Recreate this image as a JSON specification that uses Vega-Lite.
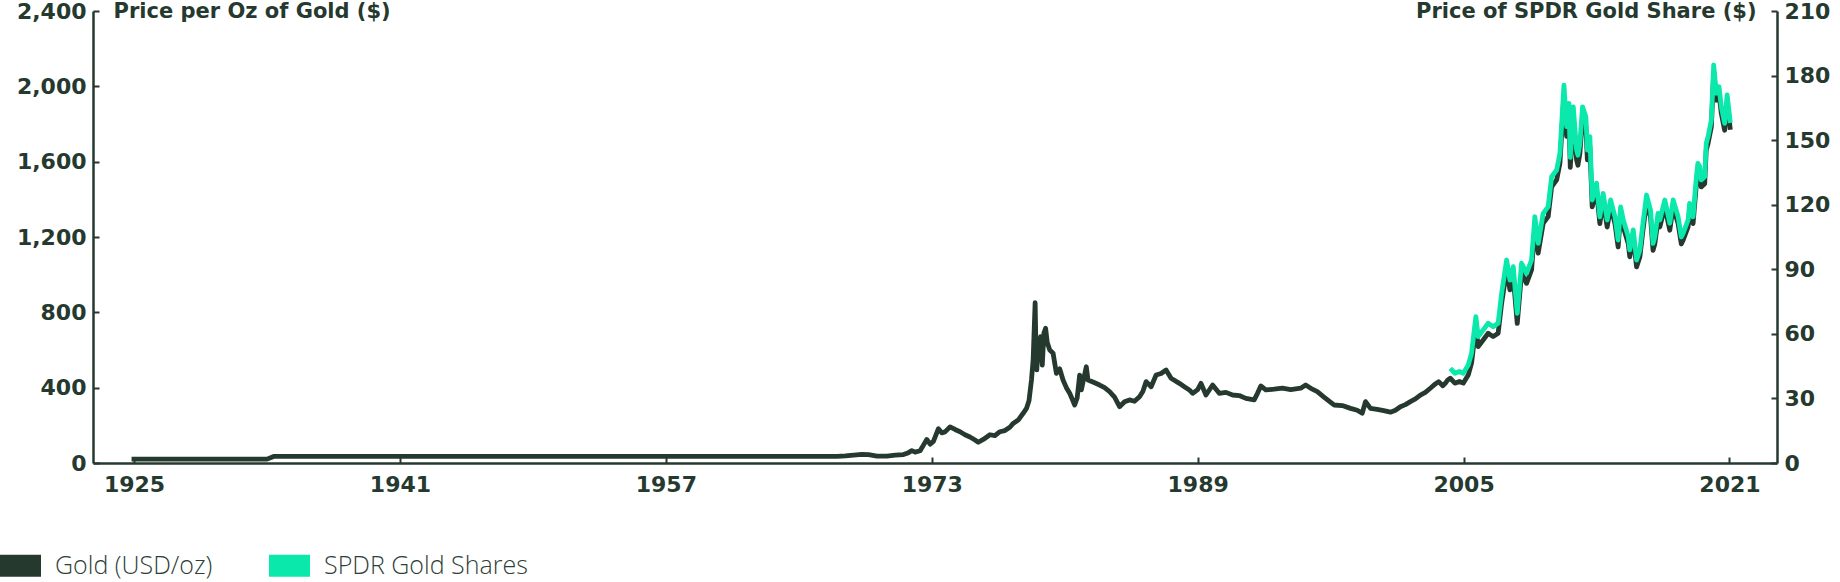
{
  "$schema": "https://vega.github.io/schema/vega-lite/v6.json",
  "width": 1684,
  "height": 452,
  "autosize": {"type": "none"},
  "padding": {"left": 93, "top": 11, "right": 63, "bottom": 119},
  "background": "white",
  "config": {"view": {"stroke": null}, "axis": {"grid": false}},
  "datasets": {
    "gold": [
      {"year": 1924.85, "value": 20.67}, {"year": 1933.0, "value": 20.67}, {"year": 1933.4, "value": 35},
      {"year": 1967.3, "value": 35}, {"year": 1967.8, "value": 38}, {"year": 1968.3, "value": 42}, {"year": 1968.8, "value": 46},
      {"year": 1969.2, "value": 44}, {"year": 1969.7, "value": 36}, {"year": 1970.3, "value": 37}, {"year": 1970.8, "value": 42},
      {"year": 1971.3, "value": 45}, {"year": 1971.6, "value": 55}, {"year": 1971.8, "value": 66}, {"year": 1972.0, "value": 58},
      {"year": 1972.3, "value": 65}, {"year": 1972.5, "value": 95}, {"year": 1972.7, "value": 125}, {"year": 1972.9, "value": 100},
      {"year": 1973.1, "value": 115}, {"year": 1973.4, "value": 182}, {"year": 1973.6, "value": 160}, {"year": 1973.8, "value": 165},
      {"year": 1974.1, "value": 192}, {"year": 1974.4, "value": 178}, {"year": 1974.7, "value": 166}, {"year": 1975.0, "value": 150},
      {"year": 1975.3, "value": 138}, {"year": 1975.6, "value": 122}, {"year": 1975.8, "value": 110}, {"year": 1976.1, "value": 125},
      {"year": 1976.5, "value": 150}, {"year": 1976.8, "value": 145}, {"year": 1977.1, "value": 166}, {"year": 1977.4, "value": 172},
      {"year": 1977.7, "value": 190}, {"year": 1977.9, "value": 210}, {"year": 1978.2, "value": 228}, {"year": 1978.5, "value": 264},
      {"year": 1978.7, "value": 290}, {"year": 1978.85, "value": 330}, {"year": 1979.0, "value": 441}, {"year": 1979.1, "value": 547},
      {"year": 1979.22, "value": 851}, {"year": 1979.28, "value": 560}, {"year": 1979.32, "value": 494}, {"year": 1979.4, "value": 630},
      {"year": 1979.47, "value": 560}, {"year": 1979.55, "value": 671}, {"year": 1979.65, "value": 520}, {"year": 1979.75, "value": 690},
      {"year": 1979.85, "value": 715}, {"year": 1979.95, "value": 640}, {"year": 1980.1, "value": 600}, {"year": 1980.3, "value": 583},
      {"year": 1980.5, "value": 476}, {"year": 1980.7, "value": 500}, {"year": 1980.9, "value": 441}, {"year": 1981.1, "value": 400},
      {"year": 1981.3, "value": 370}, {"year": 1981.45, "value": 340}, {"year": 1981.6, "value": 308}, {"year": 1981.75, "value": 345},
      {"year": 1981.9, "value": 467}, {"year": 1982.0, "value": 388}, {"year": 1982.15, "value": 450}, {"year": 1982.3, "value": 511},
      {"year": 1982.4, "value": 441}, {"year": 1982.7, "value": 430}, {"year": 1983.1, "value": 414}, {"year": 1983.4, "value": 400},
      {"year": 1983.7, "value": 379}, {"year": 1984.0, "value": 350}, {"year": 1984.3, "value": 299}, {"year": 1984.6, "value": 325},
      {"year": 1984.9, "value": 335}, {"year": 1985.2, "value": 328}, {"year": 1985.5, "value": 352}, {"year": 1985.7, "value": 380},
      {"year": 1985.9, "value": 432}, {"year": 1986.2, "value": 405}, {"year": 1986.5, "value": 467}, {"year": 1986.8, "value": 475},
      {"year": 1987.1, "value": 494}, {"year": 1987.4, "value": 450}, {"year": 1987.9, "value": 423}, {"year": 1988.2, "value": 405},
      {"year": 1988.5, "value": 388}, {"year": 1988.7, "value": 370}, {"year": 1989.0, "value": 390}, {"year": 1989.2, "value": 423},
      {"year": 1989.5, "value": 361}, {"year": 1989.9, "value": 414}, {"year": 1990.3, "value": 370}, {"year": 1990.7, "value": 375},
      {"year": 1991.1, "value": 361}, {"year": 1991.5, "value": 358}, {"year": 1991.9, "value": 343}, {"year": 1992.4, "value": 335},
      {"year": 1992.6, "value": 370}, {"year": 1992.8, "value": 409}, {"year": 1993.1, "value": 388}, {"year": 1993.6, "value": 392},
      {"year": 1994.1, "value": 397}, {"year": 1994.6, "value": 390}, {"year": 1995.2, "value": 397}, {"year": 1995.5, "value": 414},
      {"year": 1995.9, "value": 392}, {"year": 1996.2, "value": 379}, {"year": 1996.6, "value": 350}, {"year": 1997.2, "value": 308},
      {"year": 1997.7, "value": 305}, {"year": 1998.2, "value": 290}, {"year": 1998.6, "value": 280}, {"year": 1998.9, "value": 264},
      {"year": 1999.1, "value": 326}, {"year": 1999.4, "value": 290}, {"year": 1999.8, "value": 285}, {"year": 2000.2, "value": 278},
      {"year": 2000.6, "value": 270}, {"year": 2000.9, "value": 280}, {"year": 2001.2, "value": 299}, {"year": 2001.5, "value": 310},
      {"year": 2001.8, "value": 326}, {"year": 2002.1, "value": 340}, {"year": 2002.4, "value": 361}, {"year": 2002.7, "value": 375},
      {"year": 2003.0, "value": 397}, {"year": 2003.3, "value": 420}, {"year": 2003.5, "value": 432}, {"year": 2003.75, "value": 410},
      {"year": 2003.9, "value": 423}, {"year": 2004.05, "value": 441},
      {"year": 2004.2, "value": 450}, {"year": 2004.48, "value": 424}, {"year": 2004.75, "value": 433}, {"year": 2004.98, "value": 424},
      {"year": 2005.28, "value": 467}, {"year": 2005.48, "value": 530}, {"year": 2005.74, "value": 724}, {"year": 2005.88, "value": 618},
      {"year": 2006.18, "value": 653}, {"year": 2006.48, "value": 689}, {"year": 2006.78, "value": 671}, {"year": 2007.08, "value": 689},
      {"year": 2007.29, "value": 848}, {"year": 2007.59, "value": 1025}, {"year": 2007.79, "value": 919}, {"year": 2007.99, "value": 989},
      {"year": 2008.23, "value": 741}, {"year": 2008.49, "value": 1008}, {"year": 2008.79, "value": 954}, {"year": 2009.09, "value": 1025},
      {"year": 2009.29, "value": 1255}, {"year": 2009.49, "value": 1114}, {"year": 2009.79, "value": 1273}, {"year": 2010.09, "value": 1308},
      {"year": 2010.3, "value": 1467}, {"year": 2010.6, "value": 1503}, {"year": 2010.8, "value": 1592}, {"year": 2011.04, "value": 1954},
      {"year": 2011.2, "value": 1734}, {"year": 2011.34, "value": 1857}, {"year": 2011.42, "value": 1570}, {"year": 2011.5, "value": 1680},
      {"year": 2011.6, "value": 1839}, {"year": 2011.8, "value": 1609}, {"year": 2011.88, "value": 1581}, {"year": 2012.0, "value": 1644},
      {"year": 2012.16, "value": 1839}, {"year": 2012.36, "value": 1786}, {"year": 2012.45, "value": 1609}, {"year": 2012.6, "value": 1680},
      {"year": 2012.74, "value": 1360}, {"year": 2013.0, "value": 1449}, {"year": 2013.2, "value": 1271}, {"year": 2013.4, "value": 1395},
      {"year": 2013.64, "value": 1253}, {"year": 2013.85, "value": 1360}, {"year": 2014.11, "value": 1271}, {"year": 2014.3, "value": 1147},
      {"year": 2014.45, "value": 1323}, {"year": 2014.61, "value": 1253}, {"year": 2014.91, "value": 1164}, {"year": 2015.0, "value": 1095},
      {"year": 2015.21, "value": 1201}, {"year": 2015.41, "value": 1041}, {"year": 2015.61, "value": 1095}, {"year": 2015.77, "value": 1218},
      {"year": 2016.01, "value": 1386}, {"year": 2016.25, "value": 1306}, {"year": 2016.4, "value": 1129}, {"year": 2016.51, "value": 1164},
      {"year": 2016.7, "value": 1289}, {"year": 2016.81, "value": 1253}, {"year": 2017.11, "value": 1360}, {"year": 2017.41, "value": 1236},
      {"year": 2017.61, "value": 1360}, {"year": 2017.91, "value": 1271}, {"year": 2018.1, "value": 1163}, {"year": 2018.21, "value": 1183},
      {"year": 2018.51, "value": 1253}, {"year": 2018.6, "value": 1341}, {"year": 2018.81, "value": 1271}, {"year": 2019.01, "value": 1483},
      {"year": 2019.1, "value": 1554}, {"year": 2019.21, "value": 1537}, {"year": 2019.3, "value": 1466}, {"year": 2019.51, "value": 1483},
      {"year": 2019.6, "value": 1660}, {"year": 2019.71, "value": 1696}, {"year": 2019.91, "value": 1785}, {"year": 2020.05, "value": 2076},
      {"year": 2020.21, "value": 1927}, {"year": 2020.37, "value": 1961}, {"year": 2020.51, "value": 1855}, {"year": 2020.71, "value": 1767},
      {"year": 2020.86, "value": 1918}, {"year": 2021.05, "value": 1769}
    ],
    "spdr": [
      {"year": 2004.2, "value": 44.0}, {"year": 2004.48, "value": 41.7}, {"year": 2004.75, "value": 42.5}, {"year": 2004.98, "value": 41.7},
      {"year": 2005.28, "value": 45.5}, {"year": 2005.48, "value": 51.0}, {"year": 2005.74, "value": 68.0}, {"year": 2005.88, "value": 58.7},
      {"year": 2006.18, "value": 61.8}, {"year": 2006.48, "value": 64.9}, {"year": 2006.78, "value": 63.3}, {"year": 2007.08, "value": 64.9},
      {"year": 2007.29, "value": 78.8}, {"year": 2007.59, "value": 94.3}, {"year": 2007.79, "value": 85.0}, {"year": 2007.99, "value": 91.2},
      {"year": 2008.23, "value": 69.5}, {"year": 2008.49, "value": 92.8}, {"year": 2008.79, "value": 88.1}, {"year": 2009.09, "value": 94.3},
      {"year": 2009.29, "value": 114.4}, {"year": 2009.49, "value": 102.1}, {"year": 2009.79, "value": 116.0}, {"year": 2010.09, "value": 119.1},
      {"year": 2010.3, "value": 133.0}, {"year": 2010.6, "value": 136.1}, {"year": 2010.8, "value": 143.9}, {"year": 2011.04, "value": 175.6},
      {"year": 2011.2, "value": 156.3}, {"year": 2011.34, "value": 167.1}, {"year": 2011.42, "value": 142.0}, {"year": 2011.5, "value": 151.6},
      {"year": 2011.6, "value": 165.5}, {"year": 2011.8, "value": 145.4}, {"year": 2011.88, "value": 143.0}, {"year": 2012.0, "value": 148.5},
      {"year": 2012.16, "value": 165.5}, {"year": 2012.36, "value": 160.9}, {"year": 2012.45, "value": 145.4}, {"year": 2012.6, "value": 151.6},
      {"year": 2012.74, "value": 122.2}, {"year": 2013.0, "value": 130.0}, {"year": 2013.2, "value": 114.4}, {"year": 2013.4, "value": 125.3},
      {"year": 2013.64, "value": 112.9}, {"year": 2013.85, "value": 122.2}, {"year": 2014.11, "value": 114.4}, {"year": 2014.3, "value": 103.6},
      {"year": 2014.45, "value": 119.0}, {"year": 2014.61, "value": 112.9}, {"year": 2014.91, "value": 105.1}, {"year": 2015.0, "value": 99.0},
      {"year": 2015.21, "value": 108.3}, {"year": 2015.41, "value": 94.3}, {"year": 2015.61, "value": 99.0}, {"year": 2015.77, "value": 109.8},
      {"year": 2016.01, "value": 124.5}, {"year": 2016.25, "value": 117.5}, {"year": 2016.4, "value": 102.0}, {"year": 2016.51, "value": 105.1},
      {"year": 2016.7, "value": 116.0}, {"year": 2016.81, "value": 112.9}, {"year": 2017.11, "value": 122.2}, {"year": 2017.41, "value": 111.4},
      {"year": 2017.61, "value": 122.2}, {"year": 2017.91, "value": 114.4}, {"year": 2018.1, "value": 105.0}, {"year": 2018.21, "value": 106.7},
      {"year": 2018.51, "value": 112.9}, {"year": 2018.6, "value": 120.6}, {"year": 2018.81, "value": 114.4}, {"year": 2019.01, "value": 133.0},
      {"year": 2019.1, "value": 139.2}, {"year": 2019.21, "value": 137.7}, {"year": 2019.3, "value": 131.5}, {"year": 2019.51, "value": 133.0},
      {"year": 2019.6, "value": 148.5}, {"year": 2019.71, "value": 151.6}, {"year": 2019.91, "value": 159.4}, {"year": 2020.05, "value": 184.9},
      {"year": 2020.21, "value": 171.8}, {"year": 2020.37, "value": 174.8}, {"year": 2020.51, "value": 165.5}, {"year": 2020.71, "value": 157.8},
      {"year": 2020.86, "value": 171.0}, {"year": 2021.05, "value": 158.0}
    ]
  },
  "layer": [
    {
      "data": {"name": "gold"},
      "mark": {"type": "line", "strokeWidth": 4.8, "strokeJoin": "round", "strokeCap": "butt"},
      "encoding": {
        "x": {
          "field": "year", "type": "quantitative",
          "scale": {"domain": [1922.53, 2023.86], "nice": false, "zero": false},
          "axis": {
            "title": null, "values": [1925, 1941, 1957, 1973, 1989, 2005, 2021], "format": "d",
            "labelFont": "DejaVu Sans", "labelFontWeight": "bold", "labelFontSize": 22, "labelColor": "#25392f",
            "labelPadding": 17, "labelFlush": false,
            "domainColor": "#25392f", "domainWidth": 2.5, "tickColor": "#25392f", "tickWidth": 2, "tickSize": -6
          }
        },
        "y": {
          "field": "value", "type": "quantitative",
          "scale": {"domain": [0, 2400], "nice": false},
          "axis": {
            "orient": "left", "values": [0, 400, 800, 1200, 1600, 2000, 2400], "format": ",.0f",
            "title": "Price per Oz of Gold ($)", "titleAngle": 0, "titleAlign": "left", "titleBaseline": "middle",
            "titleX": 20, "titleY": 0, "titleFont": "DejaVu Sans", "titleFontWeight": "bold", "titleFontSize": 21, "titleColor": "#25392f",
            "labelFont": "DejaVu Sans", "labelFontWeight": "bold", "labelFontSize": 22, "labelColor": "#25392f", "labelPadding": 13,
            "domainColor": "#25392f", "domainWidth": 2.5, "tickColor": "#25392f", "tickWidth": 2, "tickSize": -6
          }
        },
        "color": {
          "datum": "Gold (USD/oz)",
          "scale": {"domain": ["Gold (USD/oz)", "SPDR Gold Shares"], "range": ["#25392f", "#0be8ab"]},
          "legend": {
            "orient": "none", "legendX": -93, "legendY": 534, "direction": "horizontal", "title": null,
            "symbolType": "M-1,-0.54H1V0.54H-1Z", "symbolSize": 1681, "labelOffset": 14, "columnPadding": 56, "padding": 0,
            "labelFont": "Open Sans", "labelFontWeight": 300, "labelFontSize": 25, "labelColor": "#2f3f37", "labelLimit": 0,
            "encode": {"symbols": {"update": {"fill": {"scale": "color", "field": "value"}, "fillOpacity": {"value": 1}, "strokeWidth": {"value": 0}}}}
          }
        }
      }
    },
    {
      "data": {"name": "spdr"},
      "mark": {"type": "line", "strokeWidth": 4.8, "strokeJoin": "round", "strokeCap": "butt"},
      "encoding": {
        "x": {"field": "year", "type": "quantitative"},
        "y": {
          "field": "value", "type": "quantitative",
          "scale": {"domain": [0, 210], "nice": false},
          "axis": {
            "orient": "right", "values": [0, 30, 60, 90, 120, 150, 180, 210],
            "title": "Price of SPDR Gold Share ($)", "titleAngle": 0, "titleAlign": "right", "titleBaseline": "middle",
            "titleX": -21, "titleY": 0, "titleFont": "DejaVu Sans", "titleFontWeight": "bold", "titleFontSize": 21, "titleColor": "#25392f",
            "labelFont": "DejaVu Sans", "labelFontWeight": "bold", "labelFontSize": 22, "labelColor": "#25392f", "labelPadding": 13,
            "domainColor": "#25392f", "domainWidth": 2.5, "tickColor": "#25392f", "tickWidth": 2, "tickSize": -6
          }
        },
        "color": {"datum": "SPDR Gold Shares"}
      }
    }
  ],
  "resolve": {"scale": {"y": "independent"}}
}
